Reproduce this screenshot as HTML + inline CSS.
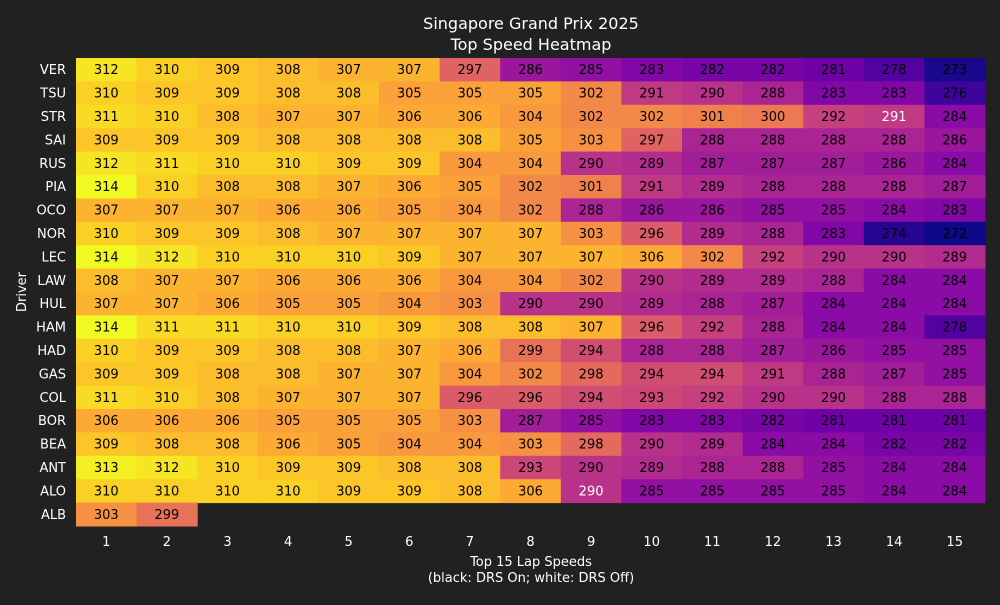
<!DOCTYPE html>
<html><head><meta charset="utf-8"><style>
body{margin:0;background:#212121;}
svg text{font-family:"DejaVu Sans","Liberation Sans",sans-serif;}
</style></head><body>
<svg id="chart" width="1000" height="600" xmlns="http://www.w3.org/2000/svg">
<rect width="1000" height="600" fill="#212121"/>
<text x="531" y="29" font-size="16" fill="#fff" text-anchor="middle">Singapore Grand Prix 2025</text>
<text x="531" y="50" font-size="16" fill="#fff" text-anchor="middle">Top Speed Heatmap</text>
<text x="531" y="566" font-size="13" fill="#fff" text-anchor="middle">Top 15 Lap Speeds</text>
<text x="531" y="582" font-size="13" fill="#fff" text-anchor="middle">(black: DRS On; white: DRS Off)</text>
<text x="26" y="292" font-size="13" fill="#fff" text-anchor="middle" transform="rotate(-90 26 292)">Driver</text>
<g id="cells"></g>
</svg>
<script>
const drivers=["VER","TSU","STR","SAI","RUS","PIA","OCO","NOR","LEC","LAW","HUL","HAM","HAD","GAS","COL","BOR","BEA","ANT","ALO","ALB"];
const laps=[1,2,3,4,5,6,7,8,9,10,11,12,13,14,15];
const speeds=[
[312,310,309,308,307,307,297,286,285,283,282,282,281,278,273],
[310,309,309,308,308,305,305,305,302,291,290,288,283,283,276],
[311,310,308,307,307,306,306,304,302,302,301,300,292,291,284],
[309,309,309,308,308,308,308,305,303,297,288,288,288,288,286],
[312,311,310,310,309,309,304,304,290,289,287,287,287,286,284],
[314,310,308,308,307,306,305,302,301,291,289,288,288,288,287],
[307,307,307,306,306,305,304,302,288,286,286,285,285,284,283],
[310,309,309,308,307,307,307,307,303,296,289,288,283,274,272],
[314,312,310,310,310,309,307,307,307,306,302,292,290,290,289],
[308,307,307,306,306,306,304,304,302,290,289,289,288,284,284],
[307,307,306,305,305,304,303,290,290,289,288,287,284,284,284],
[314,311,311,310,310,309,308,308,307,296,292,288,284,284,278],
[310,309,309,308,308,307,306,299,294,288,288,287,286,285,285],
[309,309,308,308,307,307,304,302,298,294,294,291,288,287,285],
[311,310,308,307,307,307,296,296,294,293,292,290,290,288,288],
[306,306,306,305,305,305,303,287,285,283,283,282,281,281,281],
[309,308,308,306,305,304,304,303,298,290,289,284,284,282,282],
[313,312,310,309,309,308,308,293,290,289,288,288,285,284,284],
[310,310,310,310,309,309,308,306,290,285,285,285,285,284,284],
[303,299]
];
const drsOff=[[2,13],[18,8]];
const vmin=272,vmax=314;
const stops=["#0d0887","#41049d","#6a00a8","#8f0da4","#b12a90","#cc4778","#e16462","#f2844b","#fca636","#fcce25","#f0f921"];
function hex(h){return [1,3,5].map(i=>parseInt(h.substr(i,2),16));}
function color(v){let t=Math.max(0,Math.min(1,(v-vmin)/(vmax-vmin)))*10;let i=Math.min(9,Math.floor(t)),f=t-i;
const a=hex(stops[i]),b=hex(stops[i+1]);return "rgb("+a.map((c,k)=>Math.round(c+(b[k]-c)*f)).join(",")+")";}
const x0=76,x1=985,y0=58,y1=526;
const cw=(x1-x0)/laps.length,ch=(y1-y0)/drivers.length;
const xs=i=>x0+i*cw, ys=j=>y0+j*ch;
const ns="http://www.w3.org/2000/svg";
const svg=document.getElementById("chart");
const g=document.getElementById("cells");
speeds.forEach((row,j)=>{row.forEach((v,i)=>{
 const r=document.createElementNS(ns,"rect");
 r.setAttribute("x",xs(i));r.setAttribute("y",ys(j));r.setAttribute("width",cw+0.5);r.setAttribute("height",ch+0.5);r.setAttribute("fill",color(v));
 
 
 g.appendChild(r);
 const t=document.createElementNS(ns,"text");
 const white=drsOff.some(p=>p[0]===j&&p[1]===i);
 t.setAttribute("x",xs(i)+cw/2);t.setAttribute("y",ys(j)+ch/2+4.5);t.setAttribute("font-size","13");t.setAttribute("text-anchor","middle");t.setAttribute("fill",white?"#fff":"#000");
 t.textContent=v;
 
 
 svg.appendChild(t);
});});
drivers.forEach((d,j)=>{
 const t=document.createElementNS(ns,"text");
 t.setAttribute("x",66);t.setAttribute("y",ys(j)+ch/2+4.5);t.setAttribute("font-size","13");t.setAttribute("text-anchor","end");t.setAttribute("fill","#fff");
 t.textContent=d;
 
 
 svg.appendChild(t);
});
laps.forEach((l,i)=>{
 const t=document.createElementNS(ns,"text");
 t.setAttribute("x",xs(i)+cw/2);t.setAttribute("y",546);t.setAttribute("font-size","13");t.setAttribute("text-anchor","middle");t.setAttribute("fill","#fff");
 t.textContent=l;
 
 
 svg.appendChild(t);
});
</script>
</body></html>
